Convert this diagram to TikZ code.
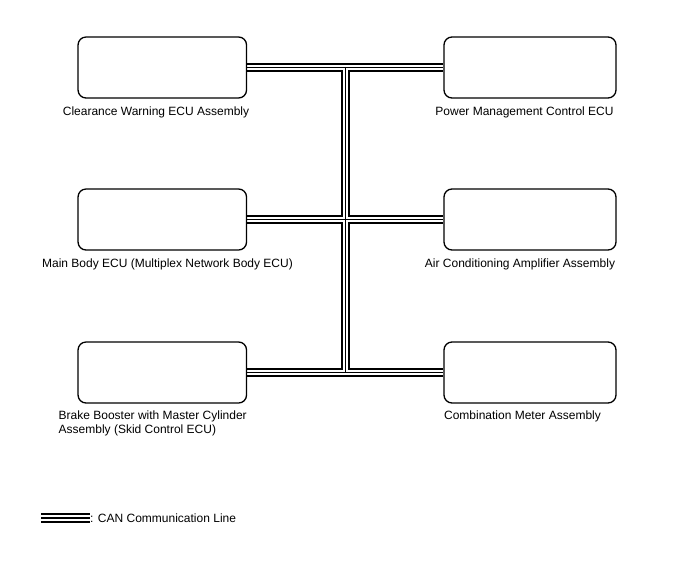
\documentclass[tikz,border=0pt]{standalone}
\usepackage{fontspec}
\setmainfont{Liberation Sans}
\usetikzlibrary{backgrounds}
\tikzset{
  ecu/.style={draw, line width=1.3pt, rounded corners=8pt, fill=white, inner sep=0pt, minimum height=61pt},
  ecuL/.style={ecu, minimum width=168.5pt},
  ecuR/.style={ecu, minimum width=172pt},
  lbl/.style={inner sep=0pt, font=\fontsize{12}{14.5}\selectfont, anchor=base},
  bus/.style={draw=black, line width=9pt,
     postaction={draw=white, line width=5.6pt},
     postaction={draw=black, line width=1pt}},
  legendbus/.style={draw=black, line width=10pt,
     postaction={draw=white, line width=6pt},
     postaction={draw=black, line width=2.4pt}}
}
\begin{document}
\begin{tikzpicture}[x=1pt,y=-1pt]
\useasboundingbox (0,0) rectangle (688,560);
% boxes
\node[ecuL] (tl) at (162.3,67.5) {};
\node[ecuR] (tr) at (530,67.5) {};
\node[ecuL] (ml) at (162.3,219.5) {};
\node[ecuR] (mr) at (530,219.5) {};
\node[ecuL] (bl) at (162.3,372.5) {};
\node[ecuR] (br) at (530,372.5) {};
\coordinate (jt) at (345.5,67.5);
\coordinate (jb) at (345.5,372.5);
\begin{pgfonlayer}{background}
\fill[white] (0,0) rectangle (688,560);
\path[bus] (tl.east) -- (tr.west) (ml.east) -- (mr.west) (bl.east) -- (br.west) (jt) -- (jb);
\end{pgfonlayer}
% labels
\node[lbl] (ltl) at (156,115.5) {Clearance Warning ECU Assembly};
\node[lbl] (ltr) at (524.5,115.5) {Power Management Control ECU};
\node[lbl] (lml) at (167.5,267.5) {Main Body ECU (Multiplex Network Body ECU)};
\node[lbl] (lmr) at (520,267.5) {Air Conditioning Amplifier Assembly};
\node[lbl, anchor=base west, align=left] (lbl1) at (58.5,433.5) {Brake Booster with Master Cylinder\\Assembly (Skid Control ECU)};
\node[lbl] (lbr) at (522.5,419) {Combination Meter Assembly};
% legend
\coordinate (lg1) at (41,518);
\coordinate (lg2) at (90,518);
\path[legendbus] (lg1) -- (lg2);
\node[lbl, anchor=west] (lgt) at (lg2) {: CAN Communication Line};
\end{tikzpicture}
\end{document}
